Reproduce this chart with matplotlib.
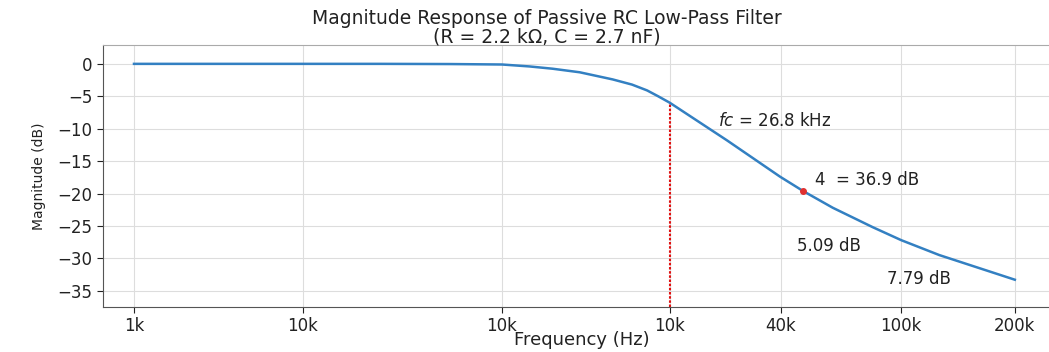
import matplotlib
matplotlib.use("Agg")
import matplotlib.pyplot as plt

# curve
freqs = [1000, 2760, 4390, 6700, 9150, 10800, 12400, 14600, 17800, 20000,
         21900, 23400, 25100, 35400, 48700, 55900, 66900, 85100, 101000,
         127000, 200000]
mag_db = [0.0, 0.0, 0.0, -0.03, -0.1, -0.4, -0.75, -1.3, -2.4, -3.2,
          -4.1, -5.0, -6.0, -11.8, -17.4, -19.6, -22.2, -25.2, -27.2,
          -29.5, -33.3]

tick_freqs = [1000, 2760, 9150, 25100, 49000, 101000, 200000]
tick_labels = ["1k", "10k", "10k", "10k", "40k", "100k", "200k"]
y_ticks = [0, -5, -10, -15, -20, -25, -30, -35]

cutoff_freq = 25100
cutoff_db = -6.0
marker_freq = 55900
marker_db = -19.6

fig = plt.figure(figsize=(10.49, 3.52), dpi=100)
ax = fig.add_axes([0.0982, 0.128, 0.913, 0.744])

ax.plot(freqs, mag_db, color="#3380c2", linewidth=1.8, zorder=3)
ax.vlines(cutoff_freq, -37.5, cutoff_db, colors="#e01010",
          linestyles=(0, (1.2, 0.8)), linewidth=1.5, zorder=2)
ax.plot(marker_freq, marker_db, "o", color="#e03030", markersize=4, zorder=4)

text_kw = dict(fontsize=12, color="#222222", va="center", ha="left")
ax.text(33500, -8.8, "$fc$ = 26.8 kHz", **text_kw)
ax.text(60000, -17.9, "4  = 36.9 dB", **text_kw)
ax.text(53900, -28.1, "5.09 dB", **text_kw)
ax.text(92600, -33.2, "7.79 dB", **text_kw)

ax.set_xscale("log")
ax.set_xlim(830, 263600)
ax.set_ylim(-37.5, 2.9)
ax.set_xticks(tick_freqs)
ax.set_xticklabels(tick_labels)
ax.minorticks_off()
ax.set_yticks(y_ticks)
ax.tick_params(labelsize=12, colors="#222222", length=4)

ax.grid(True, color="#dddddd", linewidth=0.8)
ax.set_axisbelow(True)
for side in ["left", "bottom"]:
    ax.spines[side].set_color("#555555")
ax.spines["top"].set_color("#aaaaaa")
ax.spines["right"].set_visible(False)

ax.set_xlabel("Frequency (Hz)", fontsize=13, color="#222222", labelpad=-3)
ax.set_ylabel("Magnitude (dB)", fontsize=10, color="#222222", labelpad=8)

fig.text(0.521, 0.975,
         "Magnitude Response of Passive RC Low-Pass Filter\n(R = 2.2 kΩ, C = 2.7 nF)",
         ha="center", va="top", fontsize=13.5, color="#222222", linespacing=0.95)

fig.savefig("out.png", dpi=100)
